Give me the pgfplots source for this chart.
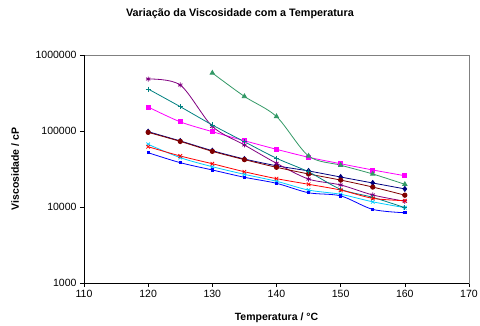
\documentclass[border=0pt]{standalone}
\usepackage{fontspec}
\setmainfont{Liberation Sans}
\usepackage{pgfplots}
\pgfplotsset{compat=1.18}
\definecolor{xnavy}{HTML}{000080}
\definecolor{xmag}{HTML}{FF00FF}
\definecolor{xgreen}{HTML}{339966}
\definecolor{xcyan}{HTML}{00CCFF}
\definecolor{xpurple}{HTML}{800080}
\definecolor{xmaroon}{HTML}{800000}
\definecolor{xteal}{HTML}{008080}
\definecolor{xblue}{HTML}{0000FF}
\definecolor{xred}{HTML}{FF0000}
\begin{document}
\begin{tikzpicture}
\path[use as bounding box] (-84pt,-42pt) rectangle (396pt,283pt);
\begin{axis}[
 at={(0,0)}, anchor=south west,
 scale only axis, width=385pt, height=228pt,
 xmin=110, xmax=170, ymode=log, ymin=1000, ymax=1000000,
 xtick={110,120,...,170},
 ytick={1000,10000,100000,1000000},
 yticklabels={1000,10000,100000,1000000},
 yminorticks=false,
 tick align=outside, major tick length=4pt,
 tick pos=left,
 tick style={black, line width=0.6pt},
 axis line style={draw=gray, line width=0.6pt},
 ticklabel style={font=\fontsize{10.5}{12}\selectfont},
 /pgf/number format/assume math mode=true,
 title={Variação da Viscosidade com a Temperatura},
 title style={font=\bfseries\fontsize{10.8}{12}\selectfont, at={(0.405,1.1535)}, anchor=center},
 xlabel={Temperatura / °C},
 xlabel style={font=\bfseries\fontsize{10.5}{12}\selectfont, at={(0.5,-0.1535)}, anchor=center},
 ylabel={Viscosidade / cP},
 ylabel style={font=\bfseries\fontsize{10.5}{12}\selectfont, at={(-0.179,0.5)}, anchor=center},
 every axis plot/.append style={line width=0.8pt, smooth, tension=0.5},
 clip=false,
]
% navy diamond
\addplot[xnavy, mark=diamond*, mark size=2.5pt] coordinates {
 (120,98000) (125,74000) (130,55100) (135,42800) (140,34900) (145,29800) (150,24800) (155,20700) (160,17300)};
% magenta square
\addplot[xmag, mark=square*, mark size=2pt] coordinates {
 (120,207000) (125,132000) (130,98000) (135,74500) (140,57400) (145,45100) (150,37100) (155,30700) (160,25800)};
% green triangle
\addplot[xgreen, mark=triangle*, mark size=2.5pt] coordinates {
 (130,580000) (135,285000) (140,155000) (145,46900) (150,35500) (155,27200) (160,19900)};
% cyan
\addplot[xcyan, mark=x, mark size=2.5pt] coordinates {
 (120,66800) (125,44600) (130,33900) (135,26900) (140,21800) (145,16700) (150,14700) (155,11700) (160,9800)};
% purple star
\addplot[xpurple, mark=asterisk, mark size=2.5pt] coordinates {
 (120,483000) (125,403000) (130,115000) (135,65500) (140,37600) (145,23300) (150,19500) (155,14400) (160,11900)};
% maroon circle
\addplot[xmaroon, mark=*, mark size=2.2pt] coordinates {
 (120,96000) (125,73000) (130,54000) (135,42000) (140,33300) (145,27200) (150,22600) (155,18300) (160,14300)};
% teal plus
\addplot[xteal, mark=+, mark size=2.5pt] coordinates {
 (120,357000) (125,209000) (130,120000) (135,72300) (140,43800) (145,29000) (150,17100) (155,13400) (160,9800)};
% blue
\addplot[xblue, mark=square*, mark size=1.1pt] coordinates {
 (120,51800) (125,38300) (130,30700) (135,24600) (140,20500) (145,15400) (150,14000) (155,9300) (160,8400)};
% red x
\addplot[xred, mark=x, mark size=2.5pt] coordinates {
 (120,62100) (125,46900) (130,37100) (135,29100) (140,23600) (145,19900) (150,16700) (155,13000) (160,12100)};
\draw[black, line width=0.6pt] (rel axis cs:0,1) -- (rel axis cs:0,0) -- (rel axis cs:1,0);
\end{axis}
\end{tikzpicture}
\end{document}
